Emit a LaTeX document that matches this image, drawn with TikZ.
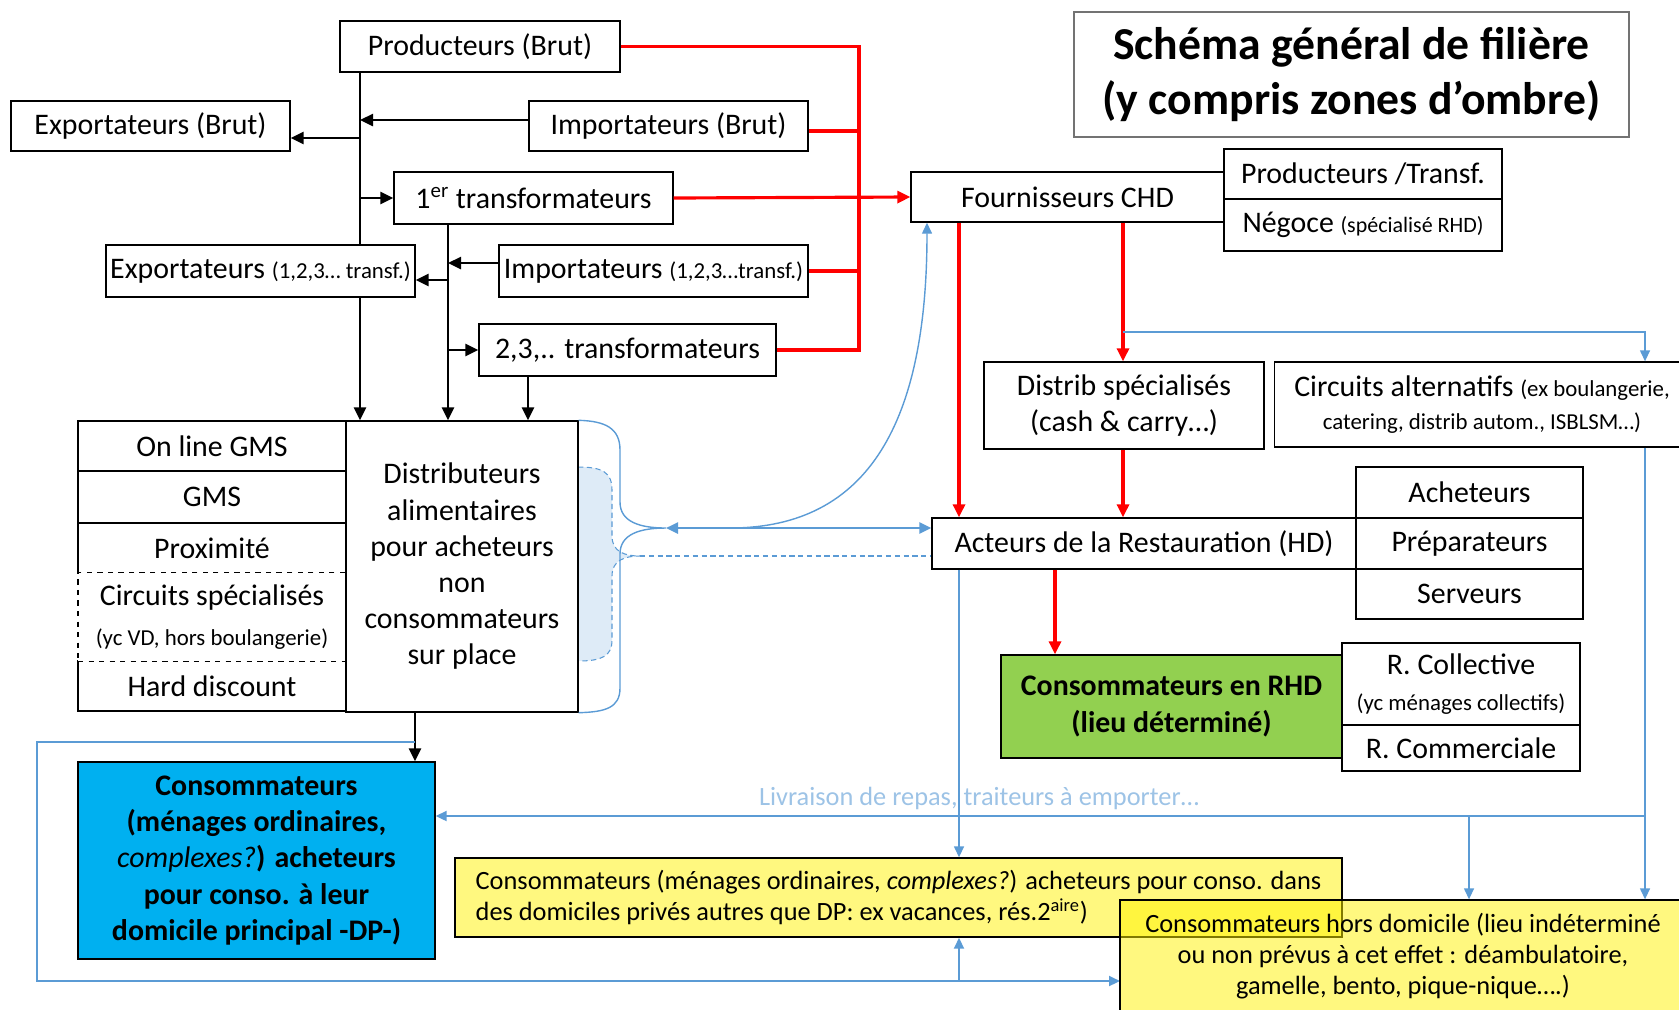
\documentclass[tikz,border=0pt]{standalone}
\usepackage{fontspec}
\setmainfont{Carlito}
\usetikzlibrary{arrows.meta}
\definecolor{lineblue}{HTML}{5B9BD5}
\definecolor{textblue}{HTML}{9DC3E6}
\definecolor{bracefill}{HTML}{DEEBF7}
\definecolor{dpblue}{HTML}{00B0F0}
\definecolor{rhdgreen}{HTML}{92D050}
\newcommand{\fsN}{\fontsize{17}{20.6}\selectfont}
\newcommand{\fsS}{\fontsize{13}{15.5}\selectfont}
\newcommand{\fsY}{\fontsize{15}{17.6}\selectfont}
\newcommand{\fsT}{\fontsize{26}{31}\selectfont\bfseries}

\begin{document}
\begin{tikzpicture}[x=0.02cm,y=-0.02cm,
    box/.style={draw,line width=0.8pt,inner sep=1pt,align=center,font=\fsN},
    blk/.style={line width=1.4pt,-{Triangle[length=2.6mm,width=2.4mm]}},
    rd/.style={red,line width=1.8pt},
    rdarr/.style={rd,-{Triangle[length=2.6mm,width=2.4mm]}},
    bl/.style={lineblue,line width=0.8pt},
    blarr/.style={bl,-{Triangle[length=2.2mm,width=2mm]}}]
\useasboundingbox (0,0) rectangle (1679,1009);

\coordinate (bA) at (360,0);
\coordinate (bB) at (448,0);
\coordinate (bC) at (528,0);
\coordinate (bD) at (415,0);
\coordinate (bR) at (859,0);
\coordinate (rA) at (959,0);
\coordinate (rB) at (1123,0);
\coordinate (rC) at (1055,0);
\coordinate (bE) at (1645,0);
\coordinate (bF) at (1469,0);
\coordinate (bG) at (927,0);

\node[box,minimum width=5.6cm,minimum height=1.02cm] (prod) at (480,46.5) {Producteurs (Brut)};
\node[box,minimum width=5.58cm,minimum height=1cm] (expB) at (150.5,126) {Exportateurs (Brut)};
\node[box,minimum width=5.58cm,minimum height=1cm] (impB) at (668.5,126) {Importateurs (Brut)};
\node[box,minimum width=5.58cm,minimum height=1.04cm] (tr1) at (533.5,198) {1\textsuperscript{er} transformateurs};
\node[box,minimum width=6.18cm,minimum height=1.04cm] (expT) at (260.5,271) {Exportateurs {\fsS(1,2,3… transf.)}};
\node[box,minimum width=6.18cm,minimum height=1.04cm] (impT) at (653.5,271) {Importateurs {\fsS(1,2,3…transf.)}};
\node[box,minimum width=5.94cm,minimum height=1.04cm] (tr23) at (627.5,350) {2,3,.. transformateurs};

\node[draw=black!55,line width=1.6pt,minimum width=11.1cm,minimum height=2.5cm,align=center,font=\fsT] (titre) at (1351.5,74.5) {Schéma général de filière\\(y compris zones d’ombre)};

\node[box,minimum width=6.26cm,minimum height=1cm] (fourn) at (1067.5,197) {Fournisseurs CHD};
\node[box,minimum width=5.56cm,minimum height=1cm] (prodT) at (1363,174) {Producteurs /Transf.};
\node[box,minimum width=5.56cm,minimum height=1.04cm] (neg) at (1363,225) {Négoce {\fontsize{12.5}{15}\selectfont(spécialisé RHD)}};
\node[box,minimum width=5.6cm,minimum height=1.74cm] (distS) at (1124,405.5) {Distrib spécialisés\\(cash \& carry…)};
\node[box,minimum width=8.3cm,minimum height=1.7cm] (circA) at (1482,404.5) {Circuits alternatifs {\fsS(ex boulangerie,}\\[-2pt]{\fsS catering, distrib autom., ISBLSM…)}};

\node[box,minimum width=8.48cm,minimum height=1.02cm] (act) at (1144,543.5) {Acteurs de la Restauration (HD)};
\node[box,minimum width=4.54cm,minimum height=1.02cm] (achet) at (1469.5,492.5) {Acheteurs};
\node[box,minimum width=4.54cm,minimum height=1.02cm] (prep) at (1469.5,543.5) {Préparateurs};
\node[box,minimum width=4.54cm,minimum height=1cm] (serv) at (1469.5,594) {Serveurs};
\node[box,fill=rhdgreen,font=\fsN\bfseries,minimum width=6.82cm,minimum height=2.06cm] (rhd) at (1171.5,706.5) {Consommateurs en RHD\\(lieu déterminé)};
\node[box,minimum width=4.76cm,minimum height=1.64cm] (rcoll) at (1461,684) {R. Collective\\{\fsS(yc ménages collectifs)}};
\node[box,minimum width=4.76cm,minimum height=0.92cm] (rcomm) at (1461,748) {R. Commerciale};

\path[fill=bracefill,draw=lineblue,densely dashed,line width=0.6pt] (578,467) .. controls (602,467) and (612,472) .. (612,490) -- (612,536) .. controls (612,552) and (625,556) .. (640,556) .. controls (625,556) and (612,560) .. (612,576) -- (612,640) .. controls (612,656) and (602,661) .. (578,661);
\coordinate (itip) at (640,556);
\coordinate (tip) at (666,528);

\node[box,minimum width=5.36cm,minimum height=1cm] (online) at (212,446) {On line GMS};
\node[box,minimum width=5.36cm,minimum height=1.04cm] (gms) at (212,497) {GMS};
\node[box,minimum width=5.36cm,minimum height=1cm] (prox) at (212,548) {Proximité};
\node[box,minimum width=5.36cm,minimum height=1cm] (hard) at (212,686) {Hard discount};
\node[box,dashed,fill=white,minimum width=5.36cm,minimum height=1.79cm] (circS) at (212,617) {Circuits spécialisés\\[2pt]{\fsS(yc VD, hors boulangerie)}};
\node[box,minimum width=4.64cm,minimum height=5.82cm] (distrib) at (462,566.5) {Distributeurs\\alimentaires\\pour acheteurs\\non\\consommateurs\\sur place};

\node[box,fill=dpblue,font=\fsN\bfseries,minimum width=7.14cm,minimum height=3.94cm] (dp) at (256.5,860.5) {Consommateurs\\(ménages ordinaires,\\{\mdseries\itshape complexes?}) acheteurs\\pour conso. à leur\\domicile principal -DP-)};
\node[box,fill=yellow,fill opacity=0.5,text opacity=1,font=\fsY,align=left,minimum width=17.74cm,minimum height=1.58cm] (y1) at (898.5,897.5) {Consommateurs (ménages ordinaires, \textit{complexes?}) acheteurs pour conso. dans\\des domiciles privés autres que DP: ex vacances, rés.2\textsuperscript{aire})};
\node[text=textblue,font=\fsY] (livT) at (979,798) {Livraison de repas, traiteurs à emporter…};

\draw[line width=1.4pt] (prod.south -| bA) -- (expT.north -| bA);
\draw[blk] (expT.south -| bA) -- (distrib.north -| bA);
\draw[blk] ([yshift=1.2mm]impB.west) -- ([yshift=1.2mm]impB.west -| bA);
\draw[blk] ([yshift=-2.4mm]expB.east -| bA) -- ([yshift=-2.4mm]expB.east);
\draw[blk] (tr1.west -| bA) -- (tr1.west);
\draw[blk] (tr1.south -| bB) -- (distrib.north -| bB);
\draw[blk] ([yshift=1.6mm]impT.west) -- ([yshift=1.6mm]impT.west -| bB);
\draw[blk] ([yshift=-1.8mm]expT.east -| bB) -- ([yshift=-1.8mm]expT.east);
\draw[blk] (tr23.west -| bB) -- (tr23.west);
\draw[blk] (tr23.south -| bC) -- (distrib.north -| bC);
\draw[blk] (distrib.south -| bD) -- (dp.north -| bD);

\draw[rd] (prod.east) -- (prod.east -| bR) -- (tr23.east -| bR) -- (tr23.east);
\draw[rd] ([yshift=-1mm]impB.east) -- ([yshift=-1mm]impB.east -| bR);
\draw[rd] (impT.east) -- (impT.east -| bR);
\draw[rdarr] (tr1.east) -- (fourn.west);
\draw[rdarr] (fourn.south -| rA) -- (act.north -| rA);
\draw[rdarr] (fourn.south -| rB) -- (distS.north -| rB);
\draw[rdarr] (distS.south -| rB) -- (act.north -| rB);
\draw[rdarr] (act.south -| rC) -- (rhd.north -| rC);

\draw[bl] (distrib.north east) .. controls (605,421) and (620,428) .. (620,450) -- (620,502) .. controls (620,522) and (640,528) .. (tip) .. controls (640,528) and (620,534) .. (620,554) -- (620,688) .. controls (620,708) and (605,712) .. (distrib.south east);
\draw[bl,densely dashed,line width=0.6pt] (itip) -- (act.west |- itip);
\draw[lineblue,line width=1.4pt,{Triangle[length=2.4mm,width=2.2mm]}-{Triangle[length=2.4mm,width=2.2mm]}] (tip) -- (act.west |- tip);
\draw[blarr] (730,528) .. controls (870,528) and (927,420) .. (fourn.south -| bG);

\coordinate (tap) at (1123,332);
\coordinate (liv) at (1645,816);
\coordinate (lpA) at (415,742);
\coordinate (lpB) at (37,981);
\draw[blarr] (tap) -| (circA.north -| bE);
\draw[blarr,line width=1.1pt] (liv) -- (liv -| dp.east);
\draw[blarr] (act.south -| rA) -- (y1.north -| rA);
\draw[blarr,line width=1.1pt] (lpA) -| (lpB) -- (lpB -| 1120,0);
\draw[blarr,line width=1.1pt] (lpB -| rA) -- (y1.south -| rA);

\node[box,fill=yellow,fill opacity=0.5,text opacity=1,font=\fsY,minimum width=11.32cm,minimum height=2.24cm] (y2) at (1403,956) {Consommateurs hors domicile (lieu indéterminé\\ou non prévus à cet effet : déambulatoire,\\gamelle, bento, pique-nique….)};
\draw[blarr] (circA.south -| bE) -- (y2.north -| bE);
\draw[blarr] (liv -| bF) -- (y2.north -| bF);
\end{tikzpicture}
\end{document}
